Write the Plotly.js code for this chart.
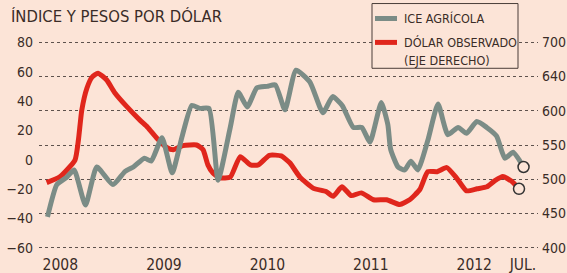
<!DOCTYPE html>
<html>
<head>
<meta charset="utf-8">
<script src="https://cdn.plot.ly/plotly-3.0.1.min.js"></script>
<style>
html,body{margin:0;padding:0;background:#fce4d7;}
#chart{width:567px;height:273px;}
</style>
</head>
<body>
<div id="chart"></div>
<script>
// ICE agrícola (left axis, index)
const iceDates = ["2007-11-17","2007-12-20","2008-01-24","2008-02-19","2008-03-30","2008-05-09","2008-07-05","2008-08-17","2008-09-15","2008-10-24","2008-11-17","2008-12-25","2009-01-30","2009-03-05","2009-04-09","2009-05-08","2009-06-09","2009-07-11","2009-08-23","2009-09-20","2009-10-22","2009-11-25","2009-12-31","2010-01-29","2010-03-04","2010-04-12","2010-05-31","2010-07-16","2010-08-19","2010-09-22","2010-10-31","2010-11-30","2010-12-29","2011-02-07","2011-03-02","2011-03-12","2011-04-07","2011-05-01","2011-05-22","2011-06-16","2011-07-21","2011-08-26","2011-09-30","2011-11-05","2011-12-05","2012-01-10","2012-02-14","2012-03-20","2012-04-18","2012-05-17","2012-06-23"];
const iceValues = [-39,-17,-12,-7,-31,-5,-17,-8,-5,1,-1,15,-9,15,37,35,35,-14,22,46,36,49,50,51,34,61,53,32,43,37,22,22,12,39,24,7,-5,-7,-1,-7,13,38,17,22,18,26,22,16,1,5,-5];

// Dólar observado (right axis, pesos por dólar)
const usdDates = ["2007-11-14","2008-01-01","2008-02-22","2008-03-05","2008-03-17","2008-04-04","2008-04-22","2008-05-13","2008-06-13","2008-07-12","2008-08-23","2008-10-09","2008-11-04","2008-12-07","2009-01-12","2009-02-03","2009-03-09","2009-04-26","2009-05-19","2009-06-05","2009-06-23","2009-07-17","2009-08-23","2009-09-27","2009-11-02","2009-11-30","2010-01-08","2010-02-19","2010-03-21","2010-04-26","2010-06-11","2010-07-27","2010-08-21","2010-09-21","2010-10-24","2010-11-28","2011-01-10","2011-02-26","2011-04-13","2011-05-18","2011-06-23","2011-07-21","2011-08-23","2011-09-26","2011-11-01","2011-12-05","2012-01-11","2012-02-15","2012-03-14","2012-04-11","2012-05-12","2012-06-07"];
const usdValues = [495,504,528,557,601,633,649,655,645,626,606,586,576,560,546,543,549,550,543,521,509,502,503,533,521,521,535,534,524,503,487,482,475,489,476,480,470,470,463,470,485,511,511,517,501,483,486,489,498,504,497,486];

const xTickVals = ["2008-01-01","2009-01-01","2010-01-01","2011-01-01","2012-01-01","2012-06-21"];
const xTickText = ["2008","2009","2010","2011","2012","JUL."];
const leftTicks = [-60,-40,-20,0,20,40,60,80];
const rightTickVals = [400,450,500,550,600,650,700];
const rightTickText = ["400","450","500","550","600","640","700"];
const seriesNames = ["ICE AGRÍCOLA","DÓLAR OBSERVADO","(EJE DERECHO)"];

const FONT = "DejaVu Sans Condensed, Liberation Sans Narrow, sans-serif";
const BG = "#fce4d7";
const TXT = "#3a2c27";
const GREY = "#7b8c86";
const RED = "#e0261c";

// plot area in pixels (used to place the hand-drawn legend box in paper units)
const M = {l: 39, r: 29, t: 40.6, b: 23.6};
const PW = 567 - M.l - M.r, PH = 273 - M.t - M.b;
const px = v => (v - M.l) / PW;
const py = v => (273 - M.b - v) / PH;

const traces = [
  {x: iceDates, y: iceValues, name: seriesNames[0], xaxis: "x", yaxis: "y2", type: "scatter", mode: "lines",
   line: {color: GREY, width: 5, shape: "spline", smoothing: 0.5}},
  {x: usdDates, y: usdValues, name: seriesNames[1], xaxis: "x", yaxis: "y", type: "scatter", mode: "lines",
   line: {color: RED, width: 5, shape: "spline", smoothing: 0.5}},
  {x: [usdDates[usdDates.length-1]], y: [usdValues[usdValues.length-1]], yaxis: "y", type: "scatter", mode: "markers",
   hoverinfo: "skip",
   marker: {symbol: "circle", size: 11, color: BG, line: {color: "#333", width: 1.5}}},
  {x: [iceDates[iceDates.length-1]], y: [iceValues[iceValues.length-1]], yaxis: "y2", type: "scatter", mode: "markers",
   hoverinfo: "skip",
   marker: {symbol: "circle", size: 11, color: BG, line: {color: "#333", width: 1.5}}}
];

const legendText = {xref: "paper", yref: "paper", xanchor: "left", yanchor: "middle", showarrow: false,
                    font: {family: FONT, size: 12.5, color: TXT}};

const layout = {
  width: 567, height: 273,
  paper_bgcolor: BG, plot_bgcolor: "rgba(0,0,0,0)",
  margin: {l: M.l, r: M.r, t: M.t, b: M.b, pad: 0},
  font: {family: FONT, color: TXT, size: 14},
  title: {text: "ÍNDICE Y PESOS POR DÓLAR", x: 11/567, xref: "container", xanchor: "left",
          y: 1 - 16/273, yref: "container", yanchor: "middle",
          font: {family: FONT, size: 16.5, color: TXT}},
  showlegend: false,
  xaxis: {type: "date", range: ["2007-10-18", "2012-08-13"], tickvals: xTickVals, ticktext: xTickText,
          showgrid: false, zeroline: false, showline: false, ticks: "", ticklabelstandoff: 4,
          tickfont: {family: FONT, size: 15.5, color: TXT}},
  yaxis: {side: "right", range: [398, 702], tickvals: rightTickVals, ticktext: rightTickText,
          showgrid: true, gridcolor: "#5e524d", gridwidth: 1, griddash: "dot",
          zeroline: false, showline: false, ticks: "", ticklabelstandoff: 3,
          tickfont: {family: FONT, size: 14, color: TXT}},
  yaxis2: {overlaying: "y", side: "left", range: [-60.933, 80.933], tickvals: leftTicks,
           showgrid: false, zeroline: false, showline: false, ticks: "", ticklabelstandoff: 5,
           tickfont: {family: FONT, size: 14, color: TXT}},
  shapes: [
    {type: "rect", xref: "paper", yref: "paper", x0: px(372), x1: px(518), y0: py(3), y1: py(68),
     line: {color: "#4a3d38", width: 1}, fillcolor: BG, layer: "above"},
    {type: "line", xref: "paper", yref: "paper", x0: px(375), x1: px(397), y0: py(18), y1: py(18),
     line: {color: GREY, width: 5}, layer: "above"},
    {type: "line", xref: "paper", yref: "paper", x0: px(375), x1: px(397), y0: py(42), y1: py(42),
     line: {color: RED, width: 5}, layer: "above"}
  ],
  annotations: [
    Object.assign({text: seriesNames[0], x: px(402), y: py(18)}, legendText),
    Object.assign({text: seriesNames[1], x: px(402), y: py(42)}, legendText),
    Object.assign({text: seriesNames[2], x: px(402), y: py(60)}, legendText)
  ]
};

Plotly.newPlot("chart", traces, layout, {displayModeBar: false, staticPlot: true});
</script>
</body>
</html>
